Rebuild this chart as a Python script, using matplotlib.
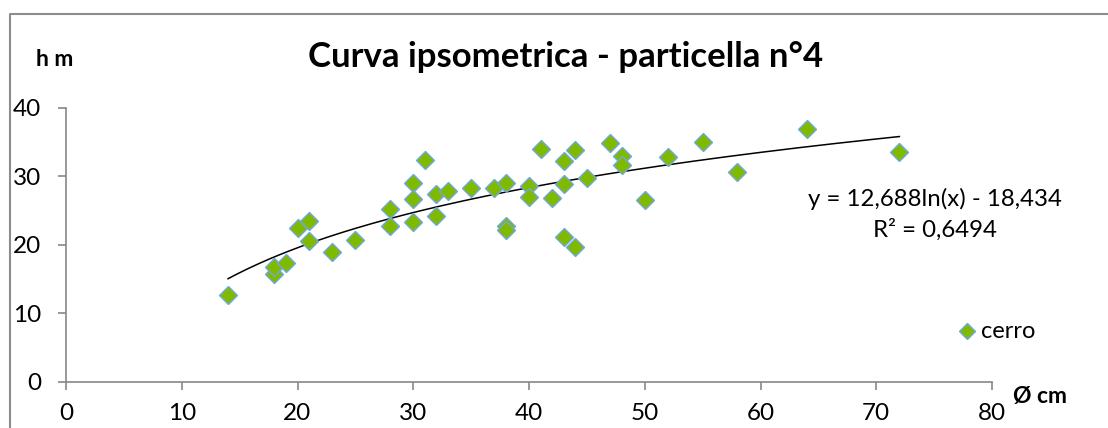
import numpy as np
import matplotlib
matplotlib.use("Agg")
import matplotlib.pyplot as plt
from matplotlib.lines import Line2D

# diametro (cm) e altezza (m) - cerro
diam = [14, 18, 18, 19, 20, 21, 21, 23, 25, 28, 28, 30, 30, 30, 31, 32, 32, 33,
        35, 37, 38, 38, 38, 40, 40, 41, 42, 43, 43, 43, 44, 44, 45, 47, 48, 48,
        50, 52, 55, 58, 64, 72]
alt = [12.7, 15.8, 16.8, 17.3, 22.5, 23.5, 20.6, 18.9, 20.7, 25.2, 22.8, 29.1,
       26.7, 23.4, 32.4, 27.4, 24.2, 27.8, 28.3, 28.3, 29.0, 22.8, 22.2, 28.6,
       27.0, 34.0, 26.9, 32.3, 28.9, 21.1, 33.9, 19.7, 29.7, 34.9, 33.0, 31.7,
       26.5, 32.8, 35.0, 30.7, 36.9, 33.5]

# trendline logaritmica (Excel)
coef_a = 12.688
coef_b = -18.434
r2 = "0,6494"

x_ticks = [0, 10, 20, 30, 40, 50, 60, 70, 80]
y_ticks = [0, 10, 20, 30, 40]

plt.rcParams["font.family"] = ["Lato", "DejaVu Sans"]
green = "#7fba00"
edge = "#6fa8dc"
axis_col = "#888888"

fig = plt.figure(figsize=(11.08, 4.28), dpi=100)
ax = fig.add_axes([66 / 1108, 1 - 381.7 / 428, (992 - 66) / 1108, (381.7 - 108) / 428])

xs = np.linspace(min(diam), max(diam), 200)
ax.plot(xs, coef_a * np.log(xs) + coef_b, color="black", lw=1.1, zorder=2)
ax.plot(diam, alt, linestyle="none", marker="D", ms=9.2, mfc=green, mec=edge,
        mew=1.0, zorder=3, clip_on=False)

ax.set_xlim(0, 80)
ax.set_ylim(0, 40)
ax.set_xticks(x_ticks)
ax.set_yticks(y_ticks)
for s in ["top", "right"]:
    ax.spines[s].set_visible(False)
for s in ["left", "bottom"]:
    ax.spines[s].set_color(axis_col)
    ax.spines[s].set_linewidth(1.2)
ax.tick_params(axis="both", direction="out", length=6, width=1.2, color=axis_col,
               labelsize=17.5)
ax.tick_params(axis="y", pad=12)
ax.tick_params(axis="x", pad=9)

# titolo e etichette assi
fig.text(566 / 1108, 1 - 57 / 428, "Curva ipsometrica - particella n°4",
         ha="center", va="center", fontsize=25, fontweight="bold")
fig.text(55 / 1108, 1 - 60 / 428, "h m", ha="center", va="center",
         fontsize=16.5, fontweight="bold")
fig.text(1040 / 1108, 1 - 396 / 428, "Ø cm", ha="center", va="center",
         fontsize=16.5, fontweight="bold")

# equazione
fig.text(935 / 1108, 1 - 199 / 428, f"y = {coef_a:.3f}ln(x) - {-coef_b:.3f}".replace(".", ","),
         ha="center", va="center", fontsize=17.3)
fig.text(935 / 1108, 1 - 230 / 428, f"R² = {r2}", ha="center", va="center", fontsize=17.3)

# legenda
fig.add_artist(Line2D([967 / 1108], [1 - 331 / 428], transform=fig.transFigure,
                      marker="D", ms=8.5, mfc=green, mec=edge, mew=1.0, linestyle="none"))
fig.text(981 / 1108, 1 - 331 / 428, "cerro", ha="left", va="center", fontsize=17)

# bordo del grafico
fig.add_artist(Line2D([10 / 1108, 10 / 1108, 1.0], [0.0, 1 - 13.5 / 428, 1 - 13.5 / 428],
                      transform=fig.transFigure, color="#8c8c8c", lw=1.5))

fig.savefig("out.png", dpi=100)
